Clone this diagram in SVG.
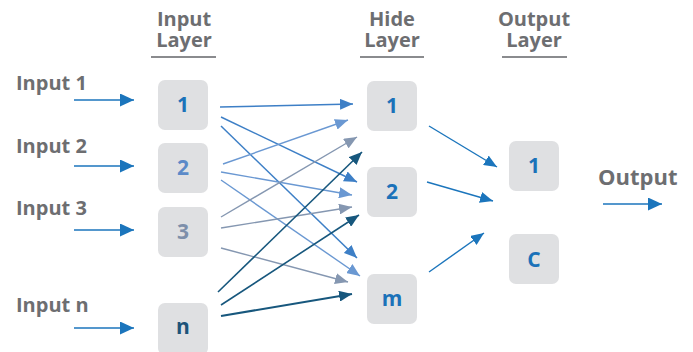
<svg xmlns="http://www.w3.org/2000/svg" width="693" height="352" viewBox="0 0 693 352">
<style>
.hdr{font-family:"Open Sans","Liberation Sans",sans-serif;font-weight:700;font-size:20px;fill:#6d6e71;text-anchor:middle}
.lbl{font-family:"Open Sans","Liberation Sans",sans-serif;font-weight:700;font-size:20px;fill:#6d6e71}
.box{fill:#dfe0e2}
.num{font-family:"Open Sans","Liberation Sans",sans-serif;font-weight:700;font-size:21px;text-anchor:middle;fill:#1b72b9}
.rule{stroke:#8a8b8e;stroke-width:2}
.main{stroke:#1b75bc;stroke-width:1.6;fill:none}
.c1{stroke:#3d7fc6;stroke-width:1.5;fill:none}
.c2{stroke:#6a98d2;stroke-width:1.4;fill:none}
.c3{stroke:#8597b1;stroke-width:1.4;fill:none}
.c4{stroke:#17577d;stroke-width:1.6;fill:none}
</style>
<defs>
<marker id="am" markerUnits="userSpaceOnUse" markerWidth="14" markerHeight="13" refX="14" refY="6.5" orient="auto"><path d="M0,0 L14,6.5 L0,13 z" fill="#1b75bc"/></marker>
<marker id="a0" markerUnits="userSpaceOnUse" markerWidth="13" markerHeight="11" refX="13" refY="5.5" orient="auto"><path d="M0,0 L13,5.5 L0,11 z" fill="#1b75bc"/></marker>
<marker id="a1" markerUnits="userSpaceOnUse" markerWidth="13" markerHeight="11" refX="13" refY="5.5" orient="auto"><path d="M0,0 L13,5.5 L0,11 z" fill="#3d7fc6"/></marker>
<marker id="a2" markerUnits="userSpaceOnUse" markerWidth="13" markerHeight="11" refX="13" refY="5.5" orient="auto"><path d="M0,0 L13,5.5 L0,11 z" fill="#6a98d2"/></marker>
<marker id="a3" markerUnits="userSpaceOnUse" markerWidth="13" markerHeight="11" refX="13" refY="5.5" orient="auto"><path d="M0,0 L13,5.5 L0,11 z" fill="#8597b1"/></marker>
<marker id="a4" markerUnits="userSpaceOnUse" markerWidth="13" markerHeight="11" refX="13" refY="5.5" orient="auto"><path d="M0,0 L13,5.5 L0,11 z" fill="#17577d"/></marker>
</defs>
<rect width="693" height="352" fill="#ffffff"/>

<g id="headers">
<text class="hdr" x="184" y="26">Input</text>
<text class="hdr" x="184" y="47">Layer</text>
<line class="rule" x1="151" y1="57" x2="216" y2="57"/>
<text class="hdr" x="392" y="26">Hide</text>
<text class="hdr" x="392" y="47">Layer</text>
<line class="rule" x1="360" y1="57" x2="424" y2="57"/>
<text class="hdr" x="534" y="26">Output</text>
<text class="hdr" x="534" y="47">Layer</text>
<line class="rule" x1="502" y1="57" x2="567" y2="57"/>
</g>

<g id="labels">
<text class="lbl" x="16" y="90">Input 1</text>
<text class="lbl" x="16" y="153">Input 2</text>
<text class="lbl" x="16" y="215">Input 3</text>
<text class="lbl" x="16" y="312">Input n</text>
<text class="lbl" x="598" y="185" style="font-size:22px">Output</text>
</g>

<g id="in1"><rect class="box" x="158" y="80" width="50" height="50" rx="7"/><text class="num" x="183" y="112">1</text></g>
<g id="in2"><rect class="box" x="158" y="143" width="50" height="50" rx="7"/><text class="num" x="183" y="175" style="fill:#5b8ac8">2</text></g>
<g id="in3"><rect class="box" x="158" y="207" width="50" height="50" rx="7"/><text class="num" x="183" y="239" style="fill:#7d8faa">3</text></g>
<g id="inn"><rect class="box" x="158" y="303" width="50" height="52" rx="7"/><text class="num" x="183" y="334" style="fill:#1d5479">n</text></g>

<g id="h1"><rect class="box" x="367" y="81" width="50" height="50" rx="7"/><text class="num" x="392" y="113">1</text></g>
<g id="h2"><rect class="box" x="367" y="167" width="50" height="50" rx="7"/><text class="num" x="392" y="199">2</text></g>
<g id="hm"><rect class="box" x="367" y="274" width="50" height="50" rx="7"/><text class="num" x="392" y="306">m</text></g>

<g id="o1"><rect class="box" x="509" y="141" width="50" height="50" rx="7"/><text class="num" x="534" y="173">1</text></g>
<g id="oc"><rect class="box" x="509" y="234" width="50" height="50" rx="7"/><text class="num" x="534" y="267">C</text></g>

<g id="connectors">
<line class="main" x1="74" y1="100" x2="134" y2="100" marker-end="url(#am)"/>
<line class="main" x1="74" y1="166" x2="134" y2="166" marker-end="url(#am)"/>
<line class="main" x1="74" y1="230" x2="134" y2="230" marker-end="url(#am)"/>
<line class="main" x1="74" y1="328" x2="134" y2="328" marker-end="url(#am)"/>
<line class="main" x1="603" y1="204" x2="662" y2="204" marker-end="url(#am)"/>

<line class="c1" x1="220" y1="107" x2="353" y2="104" marker-end="url(#a1)"/>
<line class="c1" x1="221" y1="117" x2="357" y2="182" marker-end="url(#a1)"/>
<line class="c1" x1="221" y1="126" x2="357" y2="258" marker-end="url(#a1)"/>

<line class="c2" x1="223" y1="164" x2="348" y2="120" marker-end="url(#a2)"/>
<line class="c2" x1="221" y1="172" x2="352" y2="195" marker-end="url(#a2)"/>
<line class="c2" x1="221" y1="180" x2="360" y2="276" marker-end="url(#a2)"/>

<line class="c3" x1="221" y1="217" x2="357" y2="137" marker-end="url(#a3)"/>
<line class="c3" x1="221" y1="228" x2="352" y2="207" marker-end="url(#a3)"/>
<line class="c3" x1="221" y1="248" x2="348" y2="282" marker-end="url(#a3)"/>

<line class="c4" x1="218" y1="292" x2="362" y2="152" marker-end="url(#a4)"/>
<line class="c4" x1="221" y1="305" x2="359" y2="215" marker-end="url(#a4)"/>
<line class="c4" x1="221" y1="316" x2="352" y2="294" marker-end="url(#a4)" style="stroke-width:2"/>

<line class="main" x1="429" y1="126" x2="497" y2="167" marker-end="url(#a0)" style="stroke-width:1.4"/>
<line class="main" x1="427" y1="182" x2="493" y2="201" marker-end="url(#a0)" style="stroke-width:1.4"/>
<line class="main" x1="429" y1="272" x2="484" y2="233" marker-end="url(#a0)" style="stroke-width:1.4"/>
</g>
</svg>
